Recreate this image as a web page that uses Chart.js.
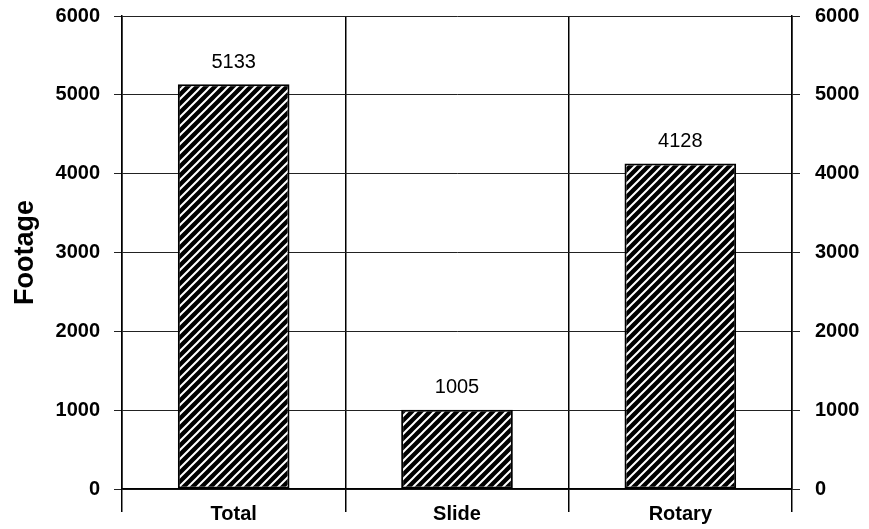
<!DOCTYPE html>
<html>
<head>
<meta charset="utf-8">
<script src="https://cdn.jsdelivr.net/npm/chart.js@4.4.1/dist/chart.umd.min.js"></script>
<style>
  html, body { margin: 0; padding: 0; background: #fff; }
  #wrap { width: 869px; height: 529px; }
</style>
</head>
<body>
<div id="wrap"><canvas id="footageChart" width="869" height="529"></canvas></div>
<script>
const categories = ["Total", "Slide", "Rotary"];
const footage = [5133, 1005, 4128];
const yTicks = [0, 1000, 2000, 3000, 4000, 5000, 6000];

// diagonal hatch fill, black with thin white stripes
function makeHatch() {
    const s = 9;
    const c = document.createElement('canvas');
    c.width = s; c.height = s;
    const g = c.getContext('2d');
    g.fillStyle = '#000';
    g.fillRect(0, 0, s, s);
    g.strokeStyle = '#fff';
    g.lineWidth = 2;
    g.beginPath();
    g.moveTo(-2, s + 2); g.lineTo(s + 2, -2);
    g.moveTo(-2, 2); g.lineTo(2, -2);
    g.moveTo(s - 2, s + 2); g.lineTo(s + 2, s - 2);
    g.stroke();
    return g.createPattern(c, 'repeat');
}

const hatch = makeHatch();

// numbers above the bars
const barLabels = {
    id: 'barLabels',
    afterDatasetsDraw(chart) {
        const ctx = chart.ctx;
        const meta = chart.getDatasetMeta(0);
        ctx.save();
        ctx.font = '20px "Liberation Sans", Arial, sans-serif';
        ctx.fillStyle = '#000';
        ctx.textAlign = 'center';
        ctx.textBaseline = 'bottom';
        meta.data.forEach((bar, i) => {
            ctx.fillText(String(footage[i]), bar.x, bar.y - 12);
        });
        ctx.restore();
    }
};

const tickFont = { family: '"Liberation Sans", Arial, sans-serif', size: 20, weight: 'bold' };

// fixed axis sizes so the plot area sits where the original's does
function fitY(width) {
    return function (scale) {
        scale.width = width;
        scale.paddingTop = 0;
        scale.paddingBottom = 0;
    };
}

const ctx = document.getElementById('footageChart').getContext('2d');
const footageChart = new Chart(ctx, {
    type: 'bar',
    data: {
        labels: categories,
        datasets: [{
            label: 'Footage',
            data: footage,
            backgroundColor: hatch,
            borderColor: '#000',
            borderWidth: 2,
            borderSkipped: false,
            barPercentage: 0.5,
            categoryPercentage: 1.0
        }]
    },
    options: {
        responsive: false,
        animation: false,
        layout: { padding: { top: 16, right: 0, bottom: 0, left: 0 } },
        plugins: {
            legend: { display: false },
            tooltip: { enabled: false }
        },
        scales: {
            x: {
                offset: true,
                afterFit(scale) {
                    scale.height = 40;
                    scale.paddingLeft = 0;
                    scale.paddingRight = 0;
                },
                grid: {
                    offset: true,
                    color: '#000',
                    lineWidth: 1.5,
                    tickLength: 23,
                    drawTicks: true
                },
                border: { color: '#000', width: 1.5 },
                ticks: { color: '#000', font: tickFont, padding: -10 }
            },
            y: {
                position: 'left',
                min: 0,
                max: 6000,
                afterFit: fitY(122),
                afterBuildTicks(scale) { scale.ticks = yTicks.map(v => ({ value: v })); },
                grid: { color: '#222', lineWidth: 1, tickLength: 8 },
                border: { color: '#000', width: 1.5 },
                ticks: { color: '#000', font: tickFont, padding: 14, callback: v => String(v) },
                title: {
                    display: true,
                    text: 'Footage',
                    color: '#000',
                    font: { family: '"Liberation Sans", Arial, sans-serif', size: 27, weight: 'bold' },
                    padding: { top: 9, bottom: 0 }
                }
            },
            y2: {
                position: 'right',
                min: 0,
                max: 6000,
                afterFit: fitY(77),
                afterBuildTicks(scale) { scale.ticks = yTicks.map(v => ({ value: v })); },
                grid: { drawOnChartArea: false, color: '#222', lineWidth: 1, tickLength: 8 },
                border: { color: '#000', width: 1.5 },
                ticks: { color: '#000', font: tickFont, padding: 15, callback: v => String(v) }
            }
        }
    },
    plugins: [barLabels]
});
</script>
</body>
</html>
